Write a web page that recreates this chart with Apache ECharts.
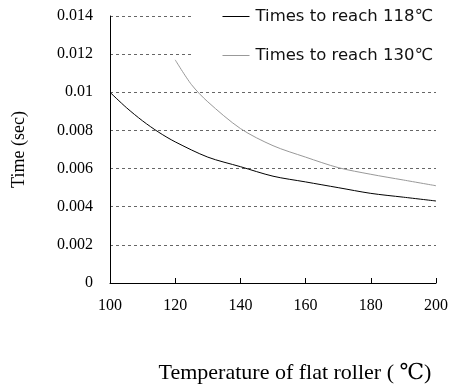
<!DOCTYPE html>
<html>
<head>
<meta charset="utf-8">
<script src="https://cdn.jsdelivr.net/npm/echarts@6/dist/echarts.min.js"></script>
<style>
  html, body { margin: 0; padding: 0; background: #fff; }
  #chart { width: 453px; height: 389px; }
</style>
</head>
<body>
<div id="chart"></div>
<script>
// temperatures (°C) and times (sec)
const temps118 = [100, 105, 110, 115, 120, 130, 140, 150, 160, 170, 180, 190, 200]
const time118 = [0.0100, 0.0092, 0.0085, 0.0079, 0.0074, 0.0066, 0.0061, 0.0056, 0.0053, 0.0050, 0.0047, 0.0045, 0.0043]

const temps130 = [120, 125, 130, 140, 150, 160, 170, 180, 190, 200]
const time130 = [0.0117, 0.0104, 0.0095, 0.0081, 0.0072, 0.0066, 0.00605, 0.0057, 0.0054, 0.0051]

const seriesNames = ['Times to reach 118℃', 'Times to reach 130℃']

const serif = '"Liberation Serif", "DejaVu Serif", serif'

const chart = echarts.init(document.getElementById('chart'))

const option = {
  backgroundColor: '#fff',
  animation: false,
  grid: {
    left: 110,
    right: 17,
    top: 16,
    bottom: 102
  },
  legend: {
    data: seriesNames,
    orient: 'vertical',
    right: 0,
    top: 0,
    padding: [7, 20, 14, 30],
    icon: 'rect',
    itemWidth: 27,
    itemHeight: 1,
    itemGap: 20,
    backgroundColor: '#fff',
    textStyle: {
      fontFamily: '"DejaVu Sans", sans-serif',
      fontSize: 16.5,
      lineHeight: 19,
      padding: [0, 0, 0, 1],
      color: '#111'
    }
  },
  xAxis: {
    type: 'value',
    min: 100,
    max: 200,
    interval: 20,
    name: 'Temperature of flat roller ( ℃)',
    nameLocation: 'middle',
    nameGap: 79,
    nameTextStyle: {
      fontFamily: serif,
      fontSize: 22,
      color: '#000',
      padding: [0, 0, 0, 44]
    },
    axisLine: { lineStyle: { color: '#000', width: 1 } },
    axisTick: { show: true, inside: true, length: 5, lineStyle: { color: '#000' } },
    axisLabel: {
      fontFamily: serif,
      fontSize: 16,
      color: '#000',
      margin: 15
    },
    splitLine: { show: false }
  },
  yAxis: {
    type: 'value',
    min: 0,
    max: 0.014,
    interval: 0.002,
    name: 'Time (sec)',
    nameLocation: 'middle',
    nameGap: 82,
    nameTextStyle: {
      fontFamily: serif,
      fontSize: 18,
      color: '#000'
    },
    axisLine: { show: true, lineStyle: { color: '#000', width: 1 } },
    axisTick: { show: false },
    axisLabel: {
      fontFamily: serif,
      fontSize: 16,
      color: '#000',
      margin: 17,
      formatter: v => String(parseFloat(v.toFixed(3)))
    },
    splitLine: {
      show: true,
      lineStyle: { color: '#666', type: [3, 3], width: 1 }
    }
  },
  series: [
    {
      name: seriesNames[0],
      type: 'line',
      smooth: 0.3,
      symbol: 'none',
      lineStyle: { color: '#000', width: 1 },
      itemStyle: { color: '#000' },
      data: temps118.map((t, i) => [t, time118[i]])
    },
    {
      name: seriesNames[1],
      type: 'line',
      smooth: 0.3,
      symbol: 'none',
      lineStyle: { color: '#999', width: 1 },
      itemStyle: { color: '#999' },
      data: temps130.map((t, i) => [t, time130[i]])
    }
  ]
}

chart.setOption(option)
</script>
</body>
</html>
